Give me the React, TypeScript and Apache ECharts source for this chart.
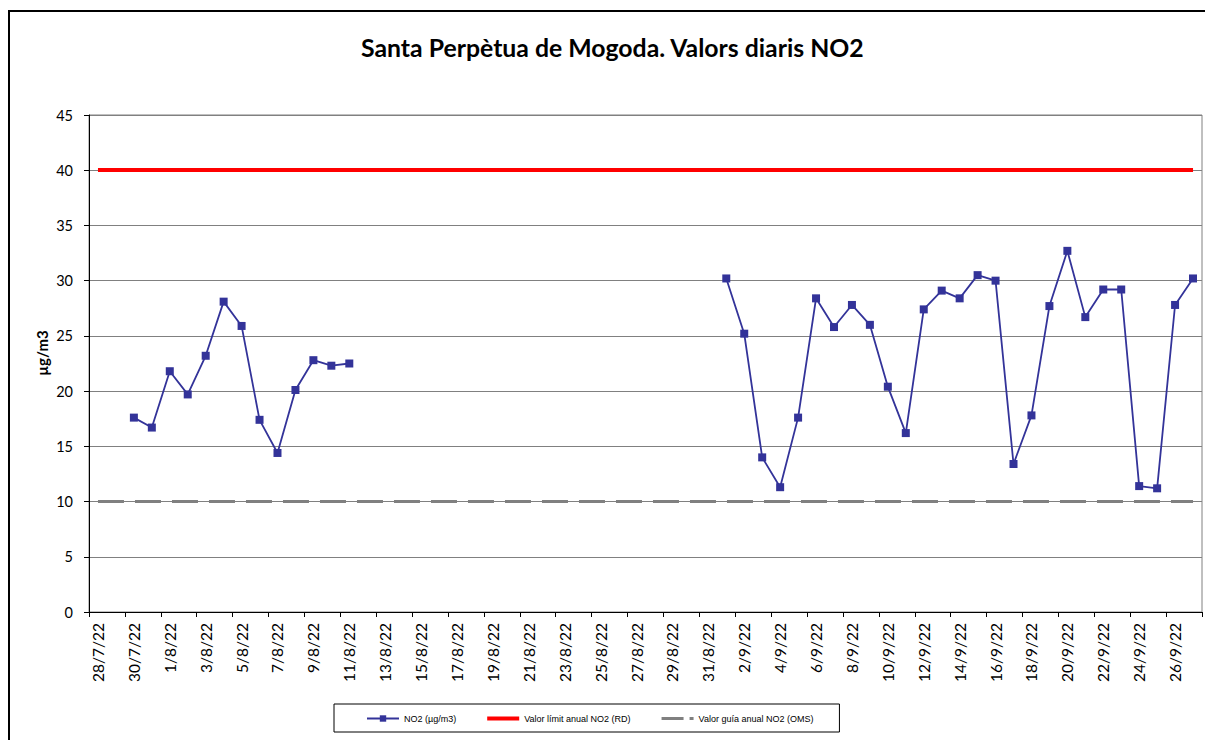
import React, { useEffect, useRef } from "react";
import * as echarts from "echarts";

const TITLE = "Santa Perpètua de Mogoda. Valors diaris NO2";
const Y_NAME = "µg/m3";

const CATEGORIES = [
  "28/7/22", "29/7/22", "30/7/22", "31/7/22",
  "1/8/22", "2/8/22", "3/8/22", "4/8/22", "5/8/22", "6/8/22", "7/8/22", "8/8/22", "9/8/22", "10/8/22",
  "11/8/22", "12/8/22", "13/8/22", "14/8/22", "15/8/22", "16/8/22", "17/8/22", "18/8/22", "19/8/22", "20/8/22",
  "21/8/22", "22/8/22", "23/8/22", "24/8/22", "25/8/22", "26/8/22", "27/8/22", "28/8/22", "29/8/22", "30/8/22", "31/8/22",
  "1/9/22", "2/9/22", "3/9/22", "4/9/22", "5/9/22", "6/9/22", "7/9/22", "8/9/22", "9/9/22", "10/9/22",
  "11/9/22", "12/9/22", "13/9/22", "14/9/22", "15/9/22", "16/9/22", "17/9/22", "18/9/22", "19/9/22", "20/9/22",
  "21/9/22", "22/9/22", "23/9/22", "24/9/22", "25/9/22", "26/9/22", "27/9/22",
];

const NO2_VALUES: (number | null)[] = [
  null, null, 17.6, 16.7,
  21.8, 19.7, 23.2, 28.1, 25.9, 17.4, 14.4, 20.1, 22.8, 22.3,
  22.5, null, null, null, null, null, null, null, null, null,
  null, null, null, null, null, null, null, null, null, null, null,
  30.2, 25.2, 14.0, 11.3, 17.6, 28.4, 25.8, 27.8, 26.0, 20.4,
  16.2, 27.4, 29.1, 28.4, 30.5, 30.0, 13.4, 17.8, 27.7, 32.7,
  26.7, 29.2, 29.2, 11.4, 11.2, 27.8, 30.2,
];

const SERIES_NAMES = [
  "NO2 (µg/m3)",
  "Valor límit anual NO2 (RD)",
  "Valor guía anual NO2 (OMS)",
];

const LIMIT_RD = 40;
const GUIDE_OMS = 10;

const Y_MIN = 0;
const Y_MAX = 45;
const Y_STEP = 5;

const AXIS_FONT = "Lato, 'Open Sans', sans-serif";
const LEGEND_FONT = "'Liberation Sans', Arial, sans-serif";

export default function App() {
  const ref = useRef<HTMLDivElement>(null);

  useEffect(() => {
    if (!ref.current) return;
    const chart = echarts.init(ref.current, null, { renderer: "svg" });
    const first = CATEGORIES[0];
    const last = CATEGORIES[CATEGORIES.length - 1];

    chart.setOption({
      animation: false,
      backgroundColor: "#fff",
      title: {
        text: TITLE,
        left: 361,
        top: 35,
        padding: 0,
        textStyle: {
          fontFamily: AXIS_FONT,
          fontWeight: "bold",
          fontSize: 24.8,
          color: "#000",
        },
      },
      graphic: [
        {
          type: "rect",
          silent: true,
          z: -10,
          shape: { x: 9, y: 11, width: 1400, height: 900 },
          style: { fill: "none", stroke: "#000", lineWidth: 2 },
        },
        {
          type: "text",
          silent: true,
          x: 42,
          y: 353,
          rotation: Math.PI / 2,
          style: {
            text: Y_NAME,
            fontFamily: AXIS_FONT,
            fontWeight: "bold",
            fontSize: 15,
            fill: "#000",
            textAlign: "center",
            textVerticalAlign: "middle",
          },
        },
      ],
      legend: {
        left: 334,
        top: 704,
        orient: "horizontal",
        padding: [10, 26, 9, 32],
        itemGap: 31,
        itemWidth: 32,
        itemHeight: 8,
        borderColor: "#000",
        borderWidth: 1,
        backgroundColor: "#fff",
        selectedMode: false,
        data: [
          { name: SERIES_NAMES[0] },
          { name: SERIES_NAMES[1], icon: "path://M0,0H32V4H0Z" },
          { name: SERIES_NAMES[2], icon: "path://M0,0H22V3H0Z M28,0H32V3H28Z" },
        ],
        textStyle: {
          fontFamily: LEGEND_FONT,
          fontSize: 9,
          color: "#000",
        },
      },
      grid: {
        left: 89,
        top: 115,
        right: 3,
        bottom: 128,
        show: true,
        borderColor: "#808080",
        borderWidth: 1,
        backgroundColor: "transparent",
      },
      xAxis: {
        type: "category",
        data: CATEGORIES,
        boundaryGap: true,
        axisLine: { show: true, lineStyle: { color: "#000", width: 1 } },
        axisTick: { show: true, interval: 1, length: 5, lineStyle: { color: "#000" } },
        axisLabel: {
          interval: 1,
          rotate: 90,
          margin: 11,
          fontFamily: AXIS_FONT,
          fontSize: 15.5,
          color: "#000",
        },
        splitLine: { show: false },
      },
      yAxis: {
        type: "value",
        min: Y_MIN,
        max: Y_MAX,
        interval: Y_STEP,
        axisLine: { show: true, lineStyle: { color: "#000", width: 1 } },
        axisTick: { show: true, length: 5, lineStyle: { color: "#000" } },
        axisLabel: {
          margin: 16,
          fontFamily: AXIS_FONT,
          fontSize: 14.5,
          color: "#000",
        },
        splitLine: { show: true, lineStyle: { color: "#808080", width: 1 } },
      },
      series: [
        {
          name: SERIES_NAMES[0],
          type: "line",
          data: NO2_VALUES,
          connectNulls: false,
          symbol: "rect",
          symbolSize: 8,
          z: 5,
          color: "#333399",
          lineStyle: { color: "#333399", width: 1.8 },
          itemStyle: { color: "#333399" },
          emphasis: { disabled: true },
        },
        {
          name: SERIES_NAMES[1],
          type: "line",
          data: [],
          symbol: "none",
          color: "#FF0000",
          lineStyle: { color: "#FF0000", width: 4 },
          z: 3,
          markLine: {
            silent: true,
            symbol: "none",
            label: { show: false },
            emphasis: { disabled: true },
            lineStyle: { color: "#FF0000", width: 4, type: "solid" },
            data: [[{ coord: [first, LIMIT_RD] }, { coord: [last, LIMIT_RD] }]],
          },
        },
        {
          name: SERIES_NAMES[2],
          type: "line",
          data: [],
          symbol: "none",
          color: "#808080",
          lineStyle: { color: "#808080", width: 3, type: [26, 11] },
          z: 3,
          markLine: {
            silent: true,
            symbol: "none",
            label: { show: false },
            emphasis: { disabled: true },
            lineStyle: { color: "#808080", width: 3, type: [26, 11] },
            data: [[{ coord: [first, GUIDE_OMS] }, { coord: [last, GUIDE_OMS] }]],
          },
        },
      ],
    });

    return () => chart.dispose();
  }, []);

  return (
    <div
      ref={ref}
      style={{ position: "absolute", left: 0, top: 0, width: 1205, height: 740 }}
    />
  );
}
